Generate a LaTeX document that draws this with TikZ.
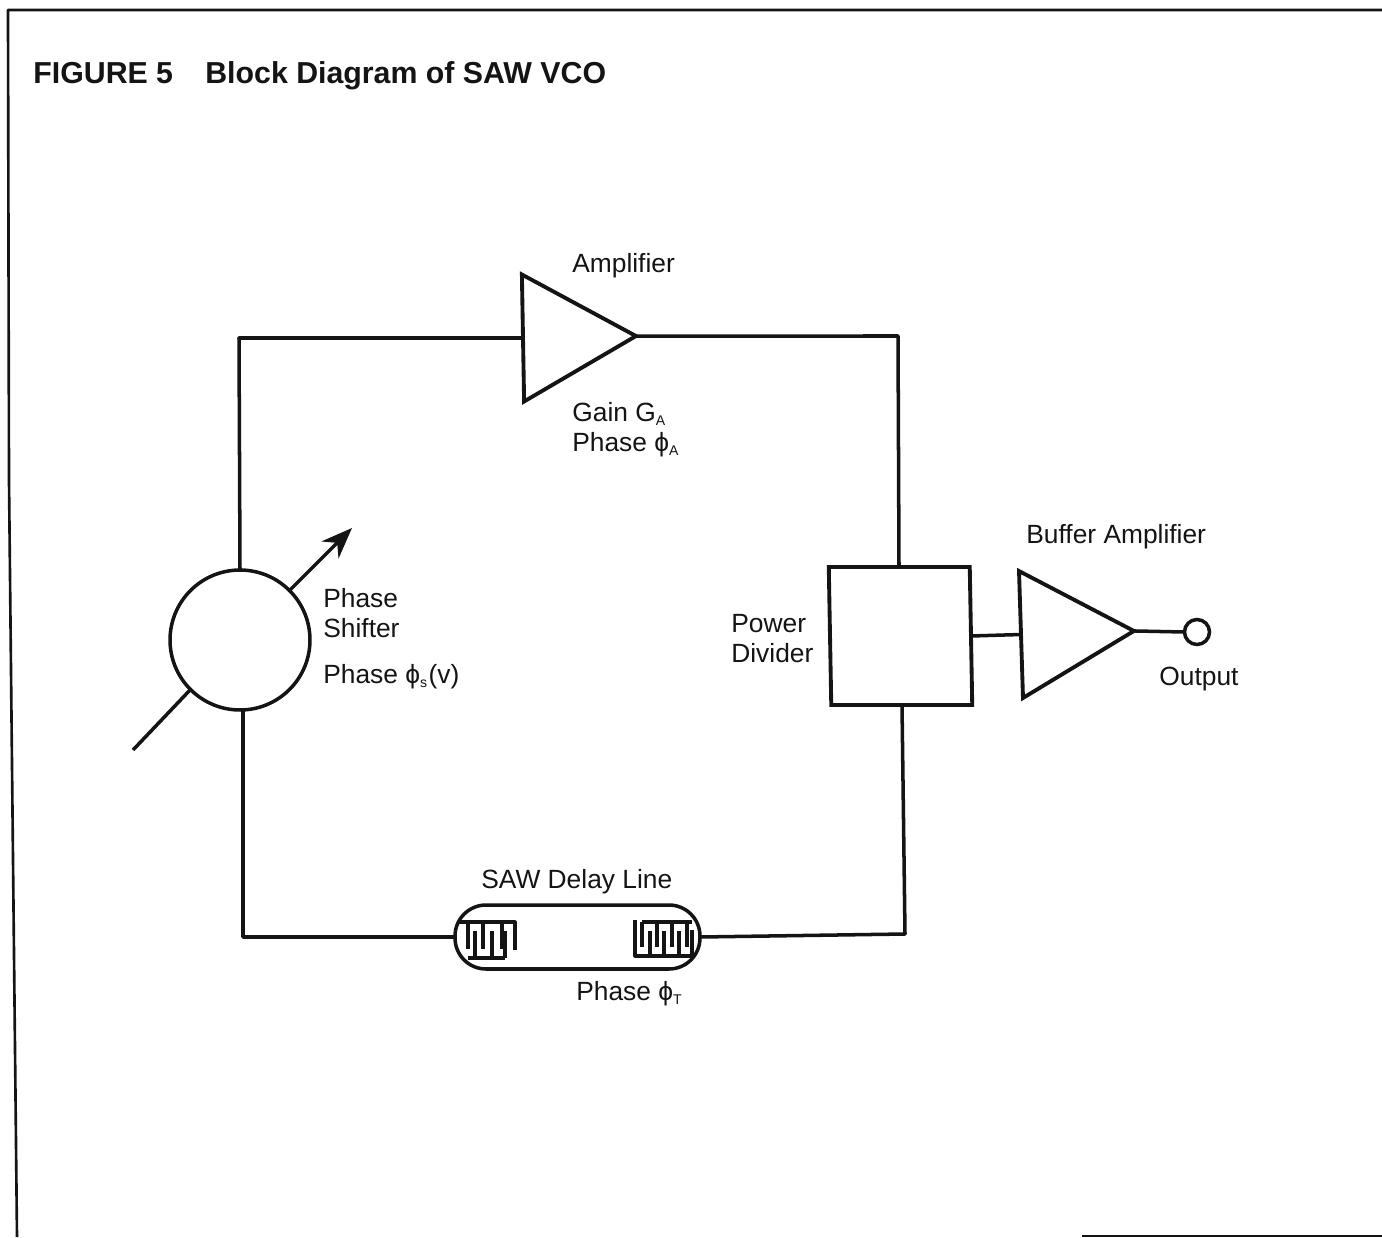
\documentclass[tikz,border=0pt]{standalone}
\usepackage{fontspec}
\setmainfont{Liberation Sans}
\usetikzlibrary{arrows.meta,shapes.geometric}
\definecolor{ink}{HTML}{141414}
\newcommand{\subsm}[1]{\raisebox{-0.35ex}{\fontsize{8}{8}\selectfont #1}}
\tikzset{
  wire/.style={ink,line width=2pt,line join=round},
  comb/.style={ink,line width=1.8pt,line join=round},
  ampblock/.style={draw=ink,line width=2.2pt,isosceles triangle,isosceles triangle stretches,
    minimum width=2.54cm,minimum height=2.26cm,inner sep=0pt,outer sep=0pt,anchor=lower side},
  lbl/.style={ink,anchor=base west,inner sep=0pt,font=\fontsize{15}{15}\selectfont},
  headlbl/.style={ink,anchor=base west,inner sep=0pt,font=\fontsize{17.25}{17.25}\selectfont\bfseries},
}
\begin{document}
\begin{tikzpicture}[x=0.02cm,y=-0.02cm]
  \useasboundingbox(0,0)rectangle(1382,1237);
  % Page frame
  \coordinate (frametl) at (8,10);
  \coordinate (frametr) at (1382,10);
  \coordinate (framemid) at (9,480);
  \coordinate (framebl) at (17,1237);
  \coordinate (framebr) at (1082,1236);
  \coordinate (frameen) at (1382,1236);
  \draw[wire,line width=1.5pt](frametr)--(frametl)--(framemid)--(framebl);
  \draw[wire,line width=1.1pt](framebr)--(frameen);
  % Title
  \node[headlbl] (figno) at (33,84){FIGURE 5};
  \node[headlbl] (figtitle) at (205,84){Block Diagram of SAW VCO};
  % Blocks
  \node[ampblock,rotate=1] (amp) at (523,338){};
  \node[ampblock,rotate=1.8] (bufamp) at (1021,634.5){};
  \node[draw=ink,line width=2pt,circle,minimum size=2.8cm,inner sep=0pt,outer sep=0pt]
    (shifter) at (240,640){};
  \node[draw=ink,line width=2.2pt,minimum width=2.82cm,minimum height=2.76cm,inner sep=0pt,
    outer sep=0pt,xslant=-0.018] (divider) at (900.5,636){};
  \node[draw=ink,line width=2pt,rounded corners=0.62cm,minimum width=4.9cm,
    minimum height=1.28cm,inner sep=0pt,outer sep=0pt] (sawline) at (577.5,937){};
  \node[draw=ink,line width=2pt,circle,minimum size=0.5cm,inner sep=0pt,outer sep=0pt]
    (outport) at (1197,632){};
  % Loop wiring
  \coordinate (cornertl) at (239,338);
  \coordinate (cornertr) at (898,336);
  \coordinate (cornerbr) at (905,934);
  \coordinate (cornerbl) at (243,937);
  \coordinate (divtop) at (899,567);
  \coordinate (divbot) at (902,705);
  \draw[wire](shifter.north)--(cornertl)--(amp.lower side);
  \draw[wire](amp.apex)--(cornertr)--(divtop);
  \draw[wire](divbot)--(cornerbr)--(sawline.east);
  \draw[wire](sawline.west)--(cornerbl)--(shifter.south-|cornerbl);
  \draw[wire](divider.east)--(bufamp.lower side);
  \draw[wire](bufamp.apex)--(outport.west);
  % Tuning arrow
  \coordinate (tunein) at (133,750);
  \coordinate (tuneout) at (352,528);
  \draw[wire](tunein)--(shifter.225);
  \draw[wire,-{Stealth[length=0.62cm,width=0.48cm]}](shifter.45)--(tuneout);
  % Left transducer
  \draw[comb](459,922)--(515,922)--(515,950);
  \foreach \fx in {468,483,502}{
    \draw[comb](\fx,922)--(\fx,949);
  }
  \draw[comb](468,958)--(505,958);
  \foreach \fx in {475,492,505}{
    \draw[comb](\fx,958)--(\fx,931);
  }
  % Right transducer
  \draw[comb](635,920)--(635,956)--(692,956)--(692,930);
  \draw[comb](642,922)--(692,922);
  \foreach \fx in {642,657,672,687}{
    \draw[comb](\fx,922)--(\fx,947);
  }
  \foreach \fx in {650,664,679}{
    \draw[comb](\fx,956)--(\fx,931);
  }
  % Labels
  \node[lbl] (amplbl) at (572,272){Amplifier};
  \node[lbl] (gainlbl) at (572,421){Gain G\subsm{A}};
  \node[lbl] (amphase) at (572,451){Phase ϕ\subsm{A}};
  \node[lbl] (shiftlbla) at (323,607){Phase};
  \node[lbl] (shiftlblb) at (323,637){Shifter};
  \node[lbl] (shiftphase) at (323,683){Phase ϕ\subsm{s}\hspace{0.8pt}(v)};
  \node[lbl] (powerlbl) at (731,632){Power};
  \node[lbl] (dividerlbl) at (731,662){Divider};
  \node[lbl] (buflbl) at (1026,543){Buffer Amplifier};
  \node[lbl] (outlbl) at (1159,685){Output};
  \node[lbl] (sawlbl) at (481,888){SAW Delay Line};
  \node[lbl] (sawphase) at (576,1000){Phase ϕ\subsm{T}};
\end{tikzpicture}
\end{document}
